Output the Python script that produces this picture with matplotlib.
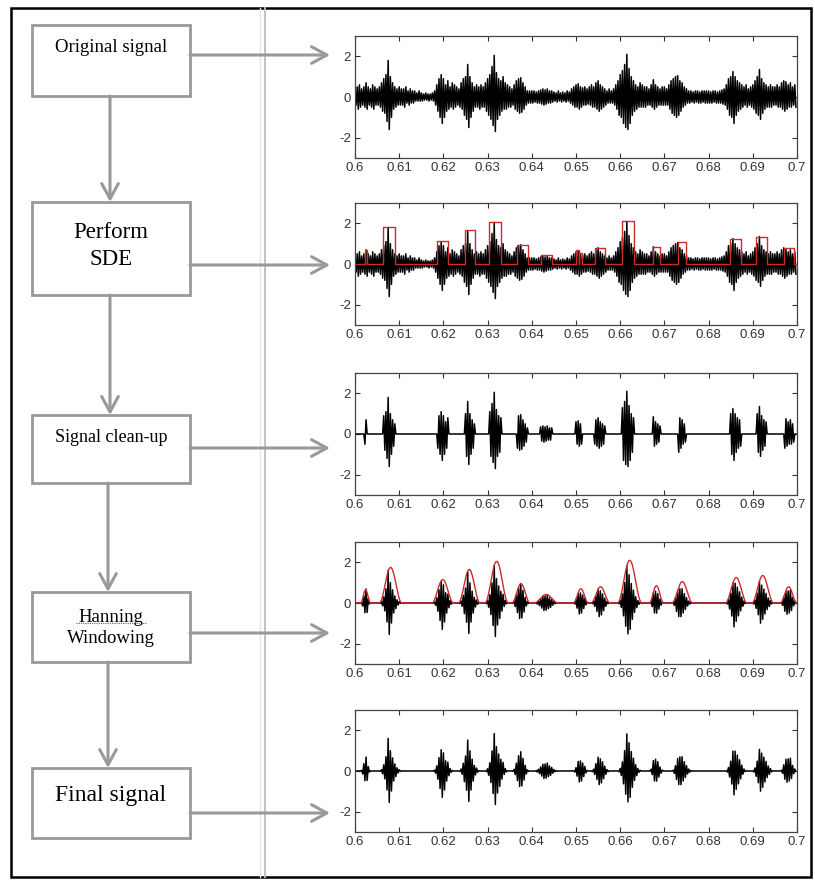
import matplotlib
matplotlib.use("Agg")
import matplotlib.pyplot as plt
import numpy as np
from matplotlib.patches import Rectangle

# ---- data ----
# envelope of the original signal, one value per 0.5 ms (0.600 .. 0.6995)
sig_upper = [
    0.4, 0.5, 0.6, 0.4, 0.5, 0.7, 0.5, 0.4, 0.6, 0.5,
    0.4, 0.5, 0.7, 0.9, 1.1, 1.8, 1.0, 0.7, 0.5, 0.4,
    0.5, 0.4, 0.4, 0.5, 0.3, 0.4, 0.3, 0.3, 0.2, 0.3,
    0.2, 0.15, 0.2, 0.15, 0.15, 0.2, 0.3, 0.6, 0.9, 1.1,
    0.9, 0.6, 0.8, 0.5, 0.7, 0.6, 0.5, 0.4, 0.7, 0.9,
    1.0, 1.6, 1.0, 0.7, 0.5, 0.6, 0.5, 0.6, 0.5, 0.7,
    0.9, 1.1, 1.5, 2.05, 1.2, 0.9, 0.8, 1.0, 0.7, 0.6,
    0.5, 0.4, 0.6, 0.8, 0.9, 0.95, 0.7, 0.5, 0.3, 0.3,
    0.3, 0.3, 0.25, 0.3, 0.35, 0.4, 0.35, 0.4, 0.3, 0.3,
    0.25, 0.2, 0.3, 0.2, 0.25, 0.2, 0.3, 0.25, 0.4, 0.5,
    0.6, 0.65, 0.5, 0.45, 0.5, 0.4, 0.5, 0.6, 0.5, 0.7,
    0.8, 0.6, 0.5, 0.4, 0.3, 0.4, 0.3, 0.4, 0.6, 0.8,
    1.1, 1.3, 1.6, 2.1, 1.4, 1.0, 0.8, 0.6, 0.5, 0.7,
    0.6, 0.5, 0.5, 0.4, 0.6, 0.85, 0.6, 0.5, 0.4, 0.5,
    0.5, 0.4, 0.6, 0.8, 0.9, 1.0, 1.05, 0.8, 0.7, 0.5,
    0.4, 0.3, 0.3, 0.25, 0.3, 0.3, 0.25, 0.3, 0.3, 0.3,
    0.3, 0.25, 0.3, 0.3, 0.25, 0.3, 0.35, 0.4, 0.6, 0.9,
    1.0, 1.25, 1.0, 0.8, 0.7, 0.6, 0.5, 0.6, 0.4, 0.5,
    0.6, 0.8, 1.0, 1.35, 0.9, 0.7, 0.6, 0.5, 0.6, 0.5,
    0.5, 0.6, 0.5, 0.7, 0.8, 0.75, 0.6, 0.7, 0.5, 0.6,
]
sig_lower = [
    -0.4, -0.6, -0.5, -0.4, -0.5, -0.6, -0.4, -0.5, -0.6, -0.4,
    -0.4, -0.5, -0.7, -0.8, -1.2, -1.6, -1.0, -0.6, -0.5, -0.4,
    -0.4, -0.4, -0.5, -0.3, -0.4, -0.3, -0.3, -0.2, -0.2, -0.2,
    -0.2, -0.15, -0.15, -0.2, -0.15, -0.2, -0.4, -0.7, -1.0, -1.3,
    -1.0, -0.7, -0.6, -0.5, -0.6, -0.5, -0.4, -0.5, -0.6, -0.9,
    -1.1, -1.5, -1.0, -0.7, -0.5, -0.5, -0.6, -0.5, -0.5, -0.7,
    -0.9, -1.1, -1.4, -1.7, -1.1, -0.9, -0.7, -0.6, -0.6, -0.5,
    -0.5, -0.4, -0.6, -0.7, -0.8, -0.75, -0.6, -0.4, -0.3, -0.3,
    -0.3, -0.25, -0.3, -0.3, -0.35, -0.4, -0.35, -0.3, -0.3, -0.25,
    -0.2, -0.25, -0.2, -0.25, -0.2, -0.25, -0.2, -0.3, -0.4, -0.5,
    -0.5, -0.6, -0.5, -0.4, -0.4, -0.35, -0.4, -0.5, -0.5, -0.6,
    -0.7, -0.6, -0.5, -0.4, -0.3, -0.3, -0.3, -0.4, -0.6, -0.9,
    -1.0, -1.3, -1.5, -1.6, -1.3, -0.9, -0.7, -0.6, -0.5, -0.5,
    -0.5, -0.5, -0.4, -0.4, -0.5, -0.6, -0.5, -0.4, -0.4, -0.4,
    -0.4, -0.4, -0.6, -0.8, -0.9, -1.0, -0.9, -0.7, -0.5, -0.4,
    -0.3, -0.3, -0.25, -0.3, -0.25, -0.3, -0.3, -0.25, -0.3, -0.3,
    -0.3, -0.3, -0.25, -0.3, -0.3, -0.3, -0.35, -0.4, -0.6, -0.9,
    -1.0, -1.3, -0.9, -0.7, -0.6, -0.5, -0.4, -0.5, -0.4, -0.5,
    -0.6, -0.8, -0.9, -1.1, -0.8, -0.6, -0.5, -0.5, -0.5, -0.4,
    -0.4, -0.5, -0.5, -0.6, -0.7, -0.6, -0.5, -0.5, -0.4, -0.5,
]

# SDE boxes (red rectangles)
sde_start = [0.6022, 0.6064, 0.6186, 0.6248, 0.6304, 0.6366, 0.6420, 0.6500, 0.6506,
             0.6542, 0.6605, 0.6675, 0.6730, 0.6849, 0.6908, 0.6971]
sde_end = [0.6027, 0.6091, 0.6211, 0.6272, 0.6330, 0.6391, 0.6445, 0.6506, 0.6513,
           0.6565, 0.6632, 0.6691, 0.6749, 0.6874, 0.6931, 0.6994]
sde_height = [0.7, 1.8, 1.15, 1.65, 2.05, 0.95, 0.42, 0.7, 0.55,
              0.8, 2.1, 0.85, 1.1, 1.25, 1.35, 0.8]

# Hanning windows (red bumps)
win_start = [0.6013, 0.6055, 0.6174, 0.6234, 0.6294, 0.6355, 0.6405, 0.6494,
             0.6534, 0.6594, 0.6666, 0.6717, 0.6838, 0.6898, 0.6962]
win_end = [0.6035, 0.6106, 0.6223, 0.6283, 0.6347, 0.6396, 0.6460, 0.6528,
           0.6577, 0.6649, 0.6698, 0.6764, 0.6887, 0.6947, 0.7000]
win_height = [0.65, 1.75, 1.15, 1.65, 2.05, 0.95, 0.42, 0.7,
              0.8, 2.1, 0.85, 1.05, 1.25, 1.35, 0.8]

xticks = [0.6, 0.61, 0.62, 0.63, 0.64, 0.65, 0.66, 0.67, 0.68, 0.69, 0.7]
xticklabels = ["0.6", "0.61", "0.62", "0.63", "0.64", "0.65", "0.66", "0.67", "0.68", "0.69", "0.7"]
yticks = [-2, 0, 2]

box_labels = ["Original signal", "Perform\nSDE", "Signal clean-up", "Hanning\nWindowing", "Final signal"]

# ---- derived signals ----
n = len(sig_upper)
t = np.empty(2 * n)
t[0::2] = 0.6 + 0.0005 * np.arange(n)
t[1::2] = t[0::2] + 0.00025
sig = np.empty(2 * n)
sig[0::2] = sig_upper
sig[1::2] = sig_lower

mask = np.zeros_like(t, dtype=bool)
for s, e in zip(sde_start, sde_end):
    mask |= (t >= s) & (t <= e)
clean = np.where(mask, sig, 0.0)

w = np.zeros_like(t)
for s, e in zip(win_start, win_end):
    inside = (t >= s) & (t <= e)
    w[inside] = 0.5 * (1 - np.cos(2 * np.pi * (t[inside] - s) / (e - s)))
final = sig * w

# red step line for SDE boxes
sde_x, sde_y = [0.6], [0.0]
for s, e, h in zip(sde_start, sde_end, sde_height):
    sde_x += [s, s, e, e]
    sde_y += [0, h, h, 0]
sde_x.append(0.7)
sde_y.append(0.0)

# red Hann curve
han_x, han_y = [0.6], [0.0]
for s, e, h in zip(win_start, win_end, win_height):
    han_x += list(np.linspace(s, e, 40))
    han_y += list(np.hanning(40) * h)
han_x.append(0.7)
han_y.append(0.0)

# ---- figure ----
W, H = 815, 880
fig = plt.figure(figsize=(W / 100, H / 100), dpi=100)
fig.patch.set_facecolor("white")

bg = fig.add_axes([0, 0, 1, 1])
bg.set_xlim(0, W)
bg.set_ylim(H, 0)
bg.axis("off")

# frame and separator
bg.add_patch(Rectangle((11, 8), 800, 869, fill=False, ec="black", lw=1.8))
bg.plot([260, 260], [8, 877], color="#e6e6e6", lw=1)
bg.plot([265, 265], [8, 877], color="#bdbdbd", lw=1.3)

gray = "#999999"
boxes = [(25, 96), (202, 295), (415, 483), (592, 662), (768, 838)]
text_y = [48, 246, 438, 628, 795]
text_size = [13.5, 16.5, 13, 13.5, 17]
line_sp = [1.2, 1.4, 1.2, 1.35, 1.2]
arrow_y = [55, 265, 448, 633, 813]
serif = ["Liberation Serif", "DejaVu Serif"]

for (y0, y1), lab, ty, fs, ls in zip(boxes, box_labels, text_y, text_size, line_sp):
    bg.add_patch(Rectangle((32, y0), 158, y1 - y0, fill=False, ec=gray, lw=2))
    bg.text(111, ty, lab, ha="center", va="center", fontsize=fs,
            family=serif, color="black", linespacing=ls)

# spell-check squiggle under "Hanning"
bg.plot([76, 146], [623, 623], color="#e03030", lw=0.8, ls=(0, (1, 1)))

head = "->,head_length=1.1,head_width=0.6"
for (ya0, ya1), (yb0, yb1), x in zip(boxes[:-1], boxes[1:], [110, 110, 108, 108]):
    bg.annotate("", xy=(x, yb0), xytext=(x, ya1),
                arrowprops=dict(arrowstyle=head, color=gray, lw=2.2,
                                shrinkA=0, shrinkB=0))

for y in arrow_y:
    bg.annotate("", xy=(330, y), xytext=(190, y),
                arrowprops=dict(arrowstyle=head, color=gray, lw=2.2,
                                shrinkA=0, shrinkB=0))

# ---- signal panels ----
panel_tops = [36, 203, 373, 542, 710]
ax_h = 122
tick_font = ["Liberation Sans Narrow", "Liberation Sans", "DejaVu Sans"]

panels = [
    (sig, None),
    (sig, (sde_x, sde_y)),
    (clean, None),
    (final, (han_x, han_y)),
    (final, None),
]

for top, (yv, red) in zip(panel_tops, panels):
    ax = fig.add_axes([355 / W, 1 - (top + ax_h) / H, 442 / W, ax_h / H])
    ax.plot(t, yv, color="black", lw=1.1)
    if red is not None:
        ax.plot(red[0], red[1], color="#cc2b2b", lw=1.0)
    ax.set_xlim(0.6, 0.7)
    ax.set_ylim(-3, 3)
    ax.set_xticks(xticks)
    ax.set_xticklabels(xticklabels)
    ax.set_yticks(yticks)
    ax.set_yticklabels(["-2", "0", "2"])
    ax.tick_params(direction="in", length=3.5, width=0.8, top=True, right=True,
                   colors="#333333", labelsize=9.5, pad=3)
    for lbl in ax.get_xticklabels() + ax.get_yticklabels():
        lbl.set_family(tick_font)
    for sp in ax.spines.values():
        sp.set_color("#444444")
        sp.set_linewidth(0.9)

fig.savefig("out.png", dpi=100)
